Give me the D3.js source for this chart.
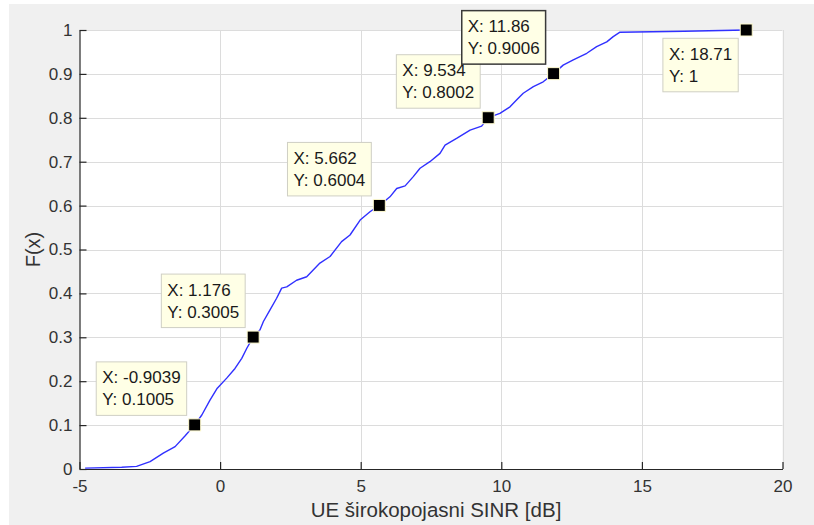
<!DOCTYPE html>
<html>
<head>
<meta charset="utf-8">
<script src="https://cdn.jsdelivr.net/npm/d3@7"></script>
<style>
  html, body { margin: 0; padding: 0; background: #ffffff; }
  svg { display: block; }
  text { font-family: "Liberation Sans", Arial, Helvetica, sans-serif; }
</style>
</head>
<body>
<svg id="chart" width="814" height="525"></svg>
<script>
// ---------- data ----------
const cdfX = [-4.8, -3.5, -2.97, -2.49, -2.02, -1.6, -1.25, -0.9039, -0.65, -0.36, -0.1, 0.235, 0.53, 0.77, 0.95, 1.176,
  1.42, 1.54, 1.77, 2.01, 2.19, 2.37, 2.72, 3.08, 3.55, 3.91, 4.32, 4.62, 4.98, 5.33, 5.662,
  6.04, 6.28, 6.58, 6.87, 7.11, 7.46, 7.82, 8.0, 8.41, 8.89, 9.3, 9.534,
  9.95, 10.31, 10.55, 10.78, 11.14, 11.49, 11.86, 12.2, 12.56, 13.04, 13.39, 13.75, 13.98, 14.22, 16.5, 18.71];
const cdfY = [0.002, 0.004, 0.006, 0.017, 0.036, 0.051, 0.075, 0.1005, 0.123, 0.157, 0.184, 0.207, 0.229, 0.252, 0.275, 0.3005,
  0.317, 0.336, 0.362, 0.389, 0.412, 0.415, 0.430, 0.438, 0.469, 0.484, 0.518, 0.533, 0.567, 0.586, 0.6004,
  0.620, 0.639, 0.645, 0.666, 0.685, 0.700, 0.719, 0.738, 0.753, 0.772, 0.781, 0.8002,
  0.810, 0.825, 0.841, 0.856, 0.871, 0.882, 0.9006, 0.920, 0.932, 0.947, 0.962, 0.973, 0.985, 0.995, 0.997, 1];

const tipXLabels = ["-0.9039", "1.176", "5.662", "9.534", "11.86", "18.71"];
const tipYLabels = ["0.1005", "0.3005", "0.6004", "0.8002", "0.9006", "1"];
const tipPlacement = ["ul", "ul", "ul", "ul", "ul", "ll"];
const selectedTip = 4;

const xTicks = [-5, 0, 5, 10, 15, 20];
const xTickLabels = ["-5", "0", "5", "10", "15", "20"];
const yTicks = [0, 0.1, 0.2, 0.3, 0.4, 0.5, 0.6, 0.7, 0.8, 0.9, 1];
const yTickLabels = ["0", "0.1", "0.2", "0.3", "0.4", "0.5", "0.6", "0.7", "0.8", "0.9", "1"];

const xLabel = "UE širokopojasni SINR [dB]";
const yLabel = "F(x)";

// ---------- layout ----------
const svg = d3.select("#chart");
const L = 79.5, R = 782.5, T = 30, B = 469;
const x = d3.scaleLinear().domain([-5, 20]).range([L, R]);
const y = d3.scaleLinear().domain([0, 1]).range([B, T]);
const axisColor = "#262626";

svg.append("rect").attr("x", 9).attr("y", 4).attr("width", 814 - 9).attr("height", 525 - 4).attr("fill", "#f0f0f0");
svg.append("rect").attr("x", L).attr("y", T).attr("width", R - L).attr("height", B - T).attr("fill", "#ffffff");

// grid
const grid = svg.append("g").attr("stroke", "#dcdcdc").attr("stroke-width", 1);
xTicks.filter(t => t !== -5).forEach(t => {
  grid.append("line").attr("x1", Math.round(x(t)) + 0.5).attr("x2", Math.round(x(t)) + 0.5).attr("y1", T).attr("y2", B);
});
yTicks.filter(t => t !== 0).forEach(t => {
  grid.append("line").attr("y1", Math.round(y(t)) + 0.5).attr("y2", Math.round(y(t)) + 0.5).attr("x1", L).attr("x2", R);
});

// axes
const xAxis = d3.axisBottom(x).tickValues(xTicks).tickFormat((d, i) => xTickLabels[i])
  .tickSizeInner(-7).tickSizeOuter(0).tickPadding(11);
const yAxis = d3.axisLeft(y).tickValues(yTicks).tickFormat((d, i) => yTickLabels[i])
  .tickSizeInner(-7).tickSizeOuter(0).tickPadding(7);

const gx = svg.append("g").attr("transform", `translate(0,${B})`).call(xAxis);
const gy = svg.append("g").attr("transform", `translate(${L},0)`).call(yAxis);
[gx, gy].forEach(g => {
  g.select(".domain").attr("stroke", axisColor).attr("stroke-width", 1.2);
  g.selectAll(".tick line").attr("stroke", axisColor).attr("stroke-width", 1.2);
  g.selectAll(".tick text").attr("fill", "#333333").attr("font-size", 17)
    .attr("font-family", "'Liberation Sans', Arial, sans-serif");
});

// axis labels
svg.append("text").attr("x", 436).attr("y", 517).attr("text-anchor", "middle")
  .attr("font-size", 20.5).attr("fill", "#333333").text(xLabel);
svg.append("text").attr("transform", `translate(40,${(T + B) / 2}) rotate(-90)`).attr("text-anchor", "middle")
  .attr("font-size", 20).attr("fill", "#333333").text(yLabel);

// curve
const pts = cdfX.map((v, i) => [v, cdfY[i]]);
svg.append("path").datum(pts)
  .attr("d", d3.line().x(d => x(d[0])).y(d => y(d[1])))
  .attr("fill", "none").attr("stroke", "#3030ff").attr("stroke-width", 1.4).attr("stroke-linejoin", "round");

// data tips
const tips = tipXLabels.map((s, i) => ({ x: +s, y: +tipYLabels[i], xs: s, ys: tipYLabels[i], place: tipPlacement[i], sel: i === selectedTip }));
const boxH = 53.5, pad = 6, gapX = 8, gapY = 9.5;
tips.forEach(tp => {
  const mx = x(tp.x), my = y(tp.y);
  const g = svg.append("g");
  const t1 = g.append("text").attr("font-size", 17).attr("fill", "#1a1a1a").text("X: " + tp.xs);
  const t2 = g.append("text").attr("font-size", 17).attr("fill", "#1a1a1a").text("Y: " + tp.ys);
  const w = Math.max(t1.node().getComputedTextLength(), t2.node().getComputedTextLength()) + 2 * pad;
  const left = mx - gapX - w;
  const top = tp.place === "ul" ? my - gapY - boxH : my + 8.3;
  g.insert("rect", "text").attr("x", left).attr("y", top).attr("width", w).attr("height", boxH)
    .attr("fill", "#ffffe6").attr("stroke", tp.sel ? "#3a3a3a" : "#cfcfc4").attr("stroke-width", tp.sel ? 1.5 : 1);
  t1.attr("x", left + pad).attr("y", top + 21.6);
  t2.attr("x", left + pad).attr("y", top + 43.6);
});

// markers
svg.append("g").selectAll("rect").data(tips).join("rect")
  .attr("x", d => x(d.x) - 6).attr("y", d => y(d.y) - 6)
  .attr("width", 12).attr("height", 12)
  .attr("fill", "#000000").attr("stroke", "#fffbd0").attr("stroke-width", 1);
</script>
</body>
</html>
